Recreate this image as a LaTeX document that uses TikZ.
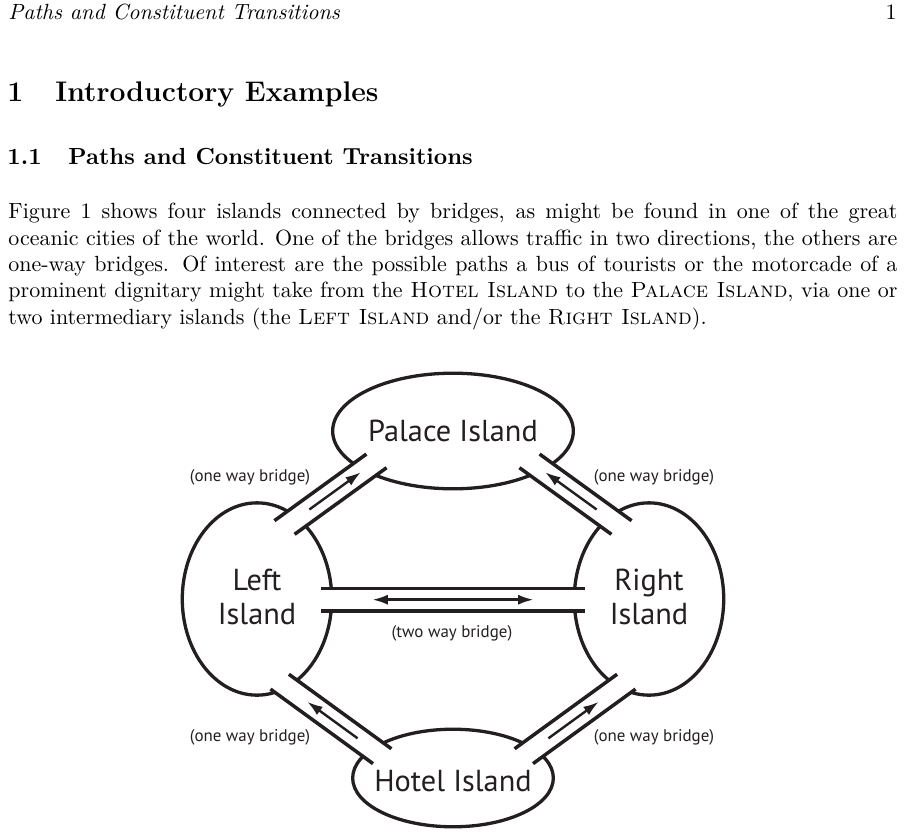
\documentclass[tikz,border=0pt]{standalone}
\usepackage{fontspec}
\usepackage{tikz}
\usetikzlibrary{arrows.meta,calc,shapes.geometric}
\newfontfamily\islandfont{PT Sans}
\definecolor{cInk}{HTML}{231F20}
\tikzset{
  island/.style={ellipse, draw=cInk, line width=1.5pt, inner sep=0pt},
  islandtext/.style={font=\islandfont\fontsize{13.8}{15.2}\selectfont,
    text=cInk, align=center, inner sep=0pt},
  bridgelab/.style={font=\islandfont\fontsize{7.7}{9}\selectfont, text=cInk},
  rail/.style={draw=cInk, line width=1.6pt},
  deck/.style={fill=white},
  flow/.style={draw=cInk, line width=1.1pt,
    -{Latex[length=7pt,width=4.6pt]}},
  flowboth/.style={flow,
    {Latex[length=7pt,width=4.6pt]}-{Latex[length=7pt,width=4.6pt]}},
  headtext/.style={anchor=base west, inner sep=0pt},
}

\begin{document}
\begin{tikzpicture}[x=0.455pt, y=-0.455pt]
\useasboundingbox (0,0) rectangle (905,836);
\def\hw{5.2pt}
% one bridge: two rails from end #1 to end #2, the lower rail shifted by #3,
% with the arrow from #4 to #5 of the way (style #6)
\newcommand{\bridge}[6]{%
  \coordinate (sA) at ($(#1)!{0pt-(#3)}!(#2)$);%
  \coordinate (sB) at ($(#1)!{#3}!(#2)$);%
  \coordinate (eA) at ($(#2)!{#3}!(#1)$);%
  \coordinate (eB) at ($(#2)!{0pt-(#3)}!(#1)$);%
  \coordinate (ra1) at ($(sA)!\hw!90:(#2)$);%
  \coordinate (ra2) at ($(eA)!\hw!-90:(#1)$);%
  \coordinate (rb1) at ($(sB)!\hw!-90:(#2)$);%
  \coordinate (rb2) at ($(eB)!\hw!90:(#1)$);%
  \fill[deck] (ra1) -- (ra2) -- (rb2) -- (rb1) -- cycle;%
  \draw[rail] (ra1) -- (ra2);%
  \draw[rail] (rb1) -- (rb2);%
  \draw[#6] ($(#1)!#4!(#2)$) -- ($(#1)!#5!(#2)$);}

% ================================================================ page text
\node[headtext, font=\itshape] (runhead) at (8,20) {Paths and Constituent Transitions};
\node[anchor=base east, inner sep=0pt] (folio) at (897,20) {1};
\node[headtext, font=\fontsize{12.9}{15}\selectfont\bfseries] (secnum) at (7,101) {1};
\node[headtext, font=\fontsize{12.9}{15}\selectfont\bfseries] (sectitle) at (55,101) {Introductory Examples};
\node[headtext, font=\fontsize{10.6}{12.7}\selectfont\bfseries] (subnum) at (7,164) {1.1};
\node[headtext, font=\fontsize{10.6}{12.7}\selectfont\bfseries] (subtitle) at (68,164) {Paths and Constituent Transitions};
\node[anchor=north west, inner sep=0pt, text width=404.5pt, align=justify] (para) at (8,202.7)
  {Figure 1 shows four islands connected by bridges, as might be found in one of the great\linebreak
   oceanic cities of the world. One of the bridges allows traffic in two directions, the others are\linebreak
   one-way bridges. Of interest are the possible paths a bus of tourists or the motorcade of a\linebreak
   prominent dignitary might take from the \textsc{Hotel Island} to the \textsc{Palace Island}, via one or\linebreak
   two intermediary islands (the \textsc{Left Island} and/or the \textsc{Right Island}).};

% ================================================================ islands
\node[island, minimum width=109.5pt, minimum height=52.6pt,
  label={[islandtext]center:Palace Island}] (palace) at (453,431) {};
\node[island, minimum width=68pt, minimum height=87.5pt,
  label={[islandtext, yshift=1pt]center:Left\\Island}] (left) at (257,599) {};
\node[island, minimum width=68pt, minimum height=87.5pt,
  label={[islandtext, yshift=1pt]center:Right\\Island}] (right) at (649,599) {};
\node[island, minimum width=91.3pt, minimum height=44.4pt,
  label={[islandtext, yshift=-1.5pt]center:Hotel Island}] (hotel) at (453,778) {};

% ================================================================ bridges
\coordinate (lpA) at (284.5,527.5); \coordinate (lpB) at (376.5,460.9);
\coordinate (rpA) at (621.5,527.5); \coordinate (rpB) at (529.5,460.9);
\coordinate (lhA) at (279.7,681.7); \coordinate (lhB) at (382.2,756.2);
\coordinate (rhA) at (626.3,681.7); \coordinate (rhB) at (523.8,756.2);
\coordinate (lrA) at (321,599.7);   \coordinate (lrB) at (585,599.7);
\bridge{lpA}{lpB}{1.9pt}{0.27}{0.83}{flow}
\bridge{rpA}{rpB}{-1.9pt}{0.27}{0.83}{flow}
\bridge{lhA}{lhB}{-1.4pt}{0.76}{0.27}{flow}
\bridge{rhA}{rhB}{1.4pt}{0.76}{0.27}{flow}
\bridge{lrA}{lrB}{0pt}{0.195}{0.805}{flowboth}

\node[bridgelab] (labLP) at (250,477) {(one way bridge)};
\node[bridgelab] (labRP) at (654,477) {(one way bridge)};
\node[bridgelab] (labLH) at (250,737) {(one way bridge)};
\node[bridgelab] (labRH) at (654,737) {(one way bridge)};
\node[bridgelab] (labLR) at (452,633) {(two way bridge)};
\end{tikzpicture}
\end{document}
